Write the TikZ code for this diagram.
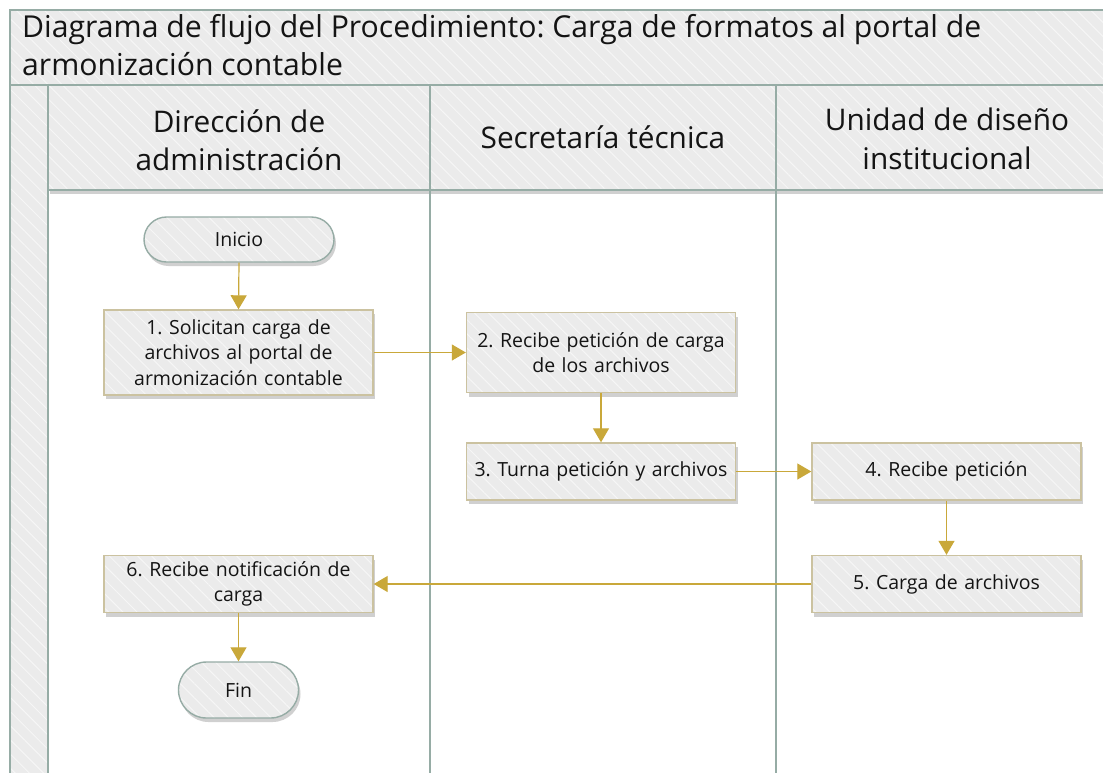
\documentclass[tikz,border=0pt]{standalone}
\usepackage{fontspec}
\setmainfont{Open Sans}
\usetikzlibrary{arrows.meta,shapes.misc,shadows,patterns.meta}
\definecolor{framec}{RGB}{150,172,165}
\definecolor{fillg}{RGB}{235,235,235}
\definecolor{hatchc}{RGB}{246,246,246}
\definecolor{boxb}{RGB}{203,194,160}
\definecolor{arrc}{RGB}{201,168,58}
\definecolor{txt}{RGB}{20,20,20}
\tikzset{
  hatched/.style={preaction={fill=fillg}, pattern={Lines[angle=-45,distance=10pt,line width=1pt]}, pattern color=hatchc},
  shad/.style={drop shadow={shadow xshift=2pt,shadow yshift=-4pt,opacity=0.3,fill=black!60}},
  lanepart/.style={hatched, draw=framec, line width=1.8pt},
  stepbox/.style={rectangle, shad, hatched, draw=boxb, line width=1.4pt, minimum width=269pt, text width=262pt, align=center, font=\fontsize{19.5}{25.5}\selectfont, text=txt, inner sep=0pt},
  termbox/.style={rounded rectangle, shad, hatched, draw=framec, line width=1.4pt, font=\fontsize{19.5}{25}\selectfont, text=txt, inner sep=0pt},
  flow/.style={draw=arrc, line width=1.2pt, -{Triangle[length=14pt,width=16pt]}},
  headtxt/.style={align=center, font=\fontsize{29.8}{38.5}\selectfont, text=txt},
  titletxt/.style={anchor=base west, font=\fontsize{30.2}{38}\selectfont, text=txt, inner sep=0pt}
}
\begin{document}
\frenchspacing
\begin{tikzpicture}[x=1pt,y=-1pt]
\useasboundingbox (0,0) rectangle (1103,772);
\fill[white] (0,0) rectangle (1103,772);
% lanes bodies
\draw[framec, line width=1.8pt, fill=white] (48,85) rectangle (430,790);
\draw[framec, line width=1.8pt, fill=white] (430,85) rectangle (776,790);
\draw[framec, line width=1.8pt, fill=white] (776,85) rectangle (1120,790);
% left strip
\path[lanepart] (10,85) rectangle (48,790);
% title
\path[lanepart] (10,10) rectangle (1120,85);
\node[titletxt] (title1) at (22,37) {Diagrama de flujo del Procedimiento: Carga de formatos al portal de};
\node[titletxt] (title2) at (22,75) {armonización contable};
% headers
\path[shad, lanepart] (48,85) rectangle (430,190);
\path[shad, lanepart] (430,85) rectangle (776,190);
\path[shad, lanepart] (776,85) rectangle (1120,190);
\draw[framec, line width=1.8pt] (430,190) -- (430,790) (776,190) -- (776,790) (48,190) -- (48,790);
\node[headtxt] (h1) at (239,140) {Dirección de\\administración};
\node[headtxt] (h2) at (603,137) {Secretaría técnica};
\node[headtxt] (h3) at (947,139) {Unidad de diseño\\institucional};
% nodes
\node[termbox, minimum width=190pt, minimum height=45pt] (ini) at (239,239.5) {Inicio};
\node[stepbox, minimum height=85pt] (b1) at (238.5,352.5) {1. Solicitan carga de\\archivos al portal de\\armonización contable};
\node[stepbox, minimum height=80pt] (b2) at (601,352.5) {2. Recibe petición de carga\\de los archivos};
\node[stepbox, minimum height=57pt] (b3) at (601,471.5) {3. Turna petición y archivos};
\node[stepbox, minimum height=57pt] (b4) at (946.5,471.5) {4. Recibe petición};
\node[stepbox, minimum height=57pt] (b5) at (946.5,584) {5. Carga de archivos};
\node[stepbox, minimum height=57pt] (b6) at (238.5,584) {6. Recibe notificación de\\carga};
\node[termbox, minimum width=120pt, minimum height=56pt] (fin) at (238.5,690) {Fin};
% arrows
\draw[flow] (ini.south) -- (b1.north);
\draw[flow] (b1.east) -- (b2.west);
\draw[flow] (b2.south) -- (b3.north);
\draw[flow] (b3.east) -- (b4.west);
\draw[flow] (b4.south) -- (b5.north);
\draw[flow] (b5.west) -- (b6.east);
\draw[flow] (b6.south) -- (fin.north);
\end{tikzpicture}
\end{document}
